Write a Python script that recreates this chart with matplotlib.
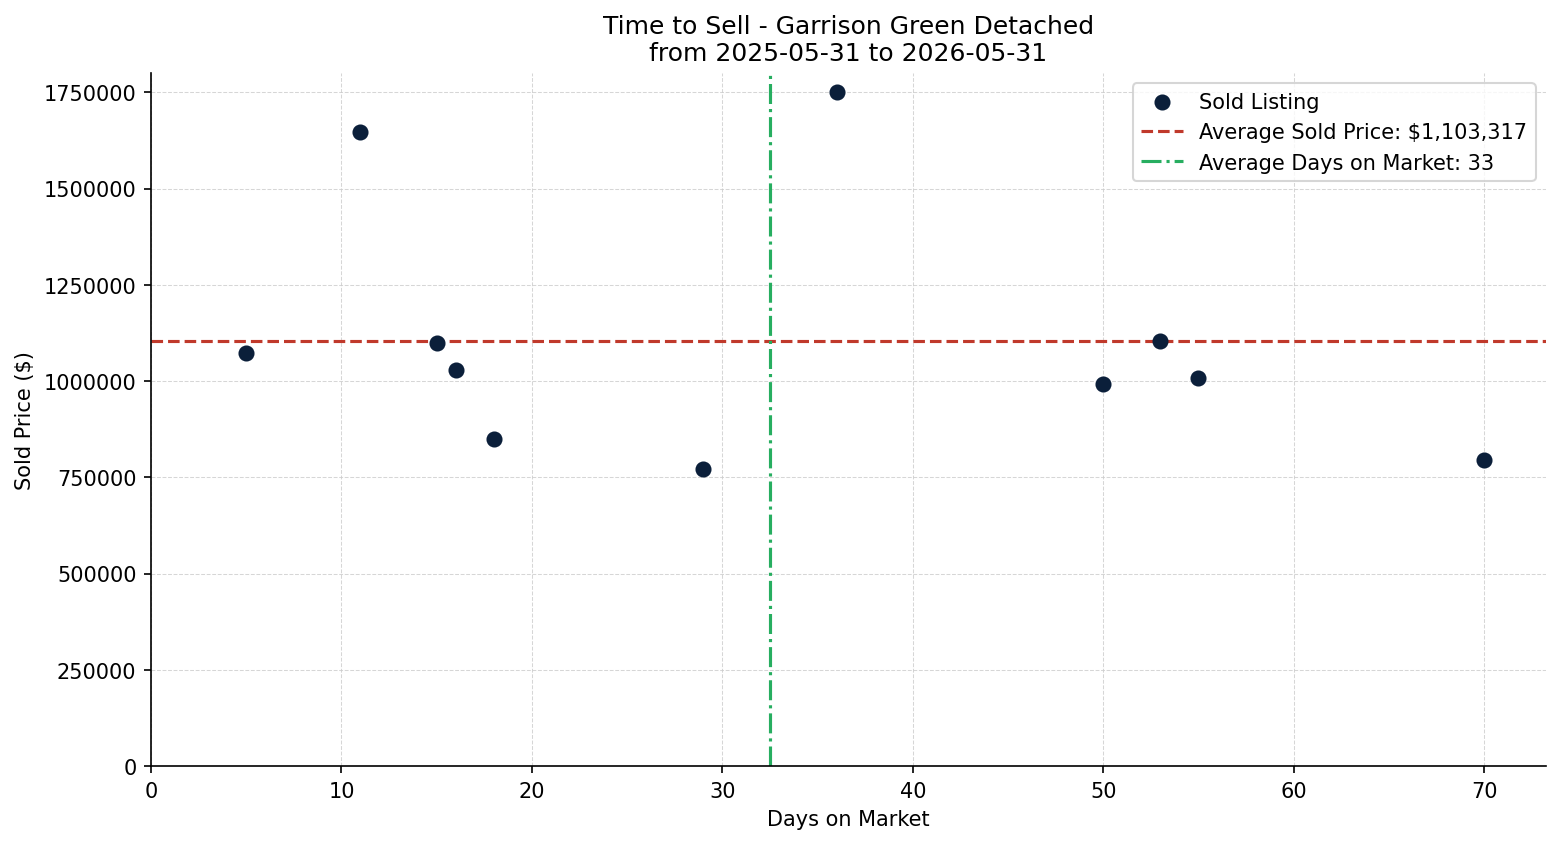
import matplotlib
matplotlib.use("Agg")
import matplotlib.pyplot as plt
from matplotlib.ticker import MultipleLocator

days_on_market = [5, 11, 15, 16, 18, 29, 36, 50, 53, 55, 70]
sold_price = [1073000, 1647000, 1099000, 1029000, 849000, 772000,
              1751000, 993000, 1105000, 1008000, 795000]
avg_price = 1103317
avg_days = 32.5
avg_days_label = 33

fig, ax = plt.subplots(figsize=(10.4, 5.633), dpi=150)
ax.scatter(days_on_market, sold_price, s=45, color="#0b1f3a", label="Sold Listing", zorder=3)
ax.axhline(avg_price, color="#c0392b", linestyle="--", linewidth=1.5,
           label=f"Average Sold Price: ${avg_price:,.0f}")
ax.axvline(avg_days, color="#27ae60", linestyle="-.", linewidth=1.5,
           label=f"Average Days on Market: {avg_days_label}")

ax.set_title("Time to Sell - Garrison Green Detached\nfrom 2025-05-31 to 2026-05-31", fontsize=12)
ax.set_xlabel("Days on Market")
ax.set_ylabel("Sold Price ($)")
ax.set_xlim(left=0)
ax.set_ylim(bottom=0)
ax.yaxis.set_major_locator(MultipleLocator(250000))
ax.ticklabel_format(axis="y", style="plain", useOffset=False)
ax.grid(True, linestyle="--", linewidth=0.5, color="#cccccc", alpha=0.8)
ax.spines["top"].set_visible(False)
ax.spines["right"].set_visible(False)
ax.legend(loc="upper right")

fig.subplots_adjust(left=151 / 1560, right=1546 / 1560, top=1 - 74 / 845, bottom=1 - 767 / 845)
plt.savefig("out.png", dpi=150)
